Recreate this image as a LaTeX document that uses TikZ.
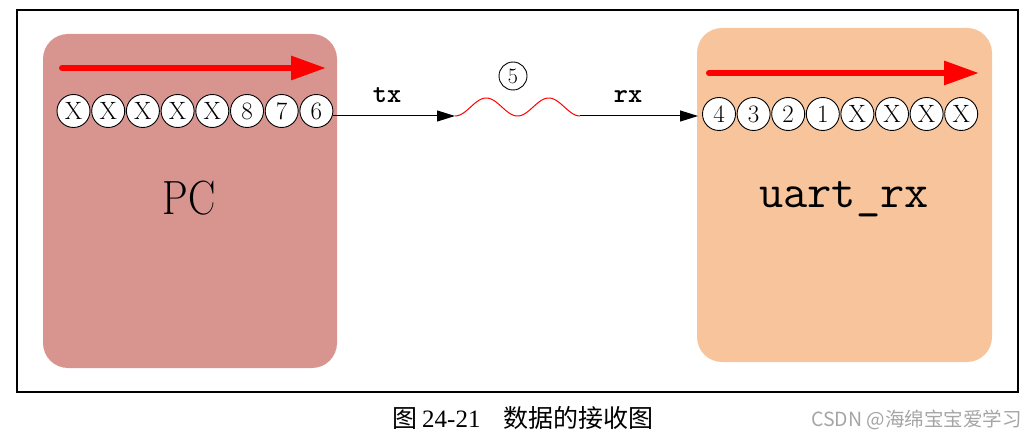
\documentclass[tikz,border=0pt]{standalone}
\usepackage{fontspec}
\newfontfamily\cjk{Noto Sans CJK SC}
\newfontfamily\capdigits{Liberation Serif}
\usetikzlibrary{arrows.meta,calc}
\definecolor{pcfill}{RGB}{216,149,144}
\definecolor{rxfill}{RGB}{248,196,155}
\definecolor{wmgray}{RGB}{165,165,165}
\tikzset{
  blockbox/.style={rounded corners=25pt, draw=none},
  bit/.style={circle, draw=black, line width=0.9pt, fill=white, minimum size=33pt, inner sep=0pt,
    font=\fontsize{25}{25}\selectfont},
  flow/.style={red, line width=6pt, line cap=round, -{Triangle[length=35pt,width=23pt]}},
  link/.style={black, line width=1pt, -{Triangle[length=18pt,width=11pt]}},
  sig/.style={font=\ttfamily\bfseries\fontsize{27}{27}\selectfont, anchor=base},
}
\begin{document}
\begin{tikzpicture}[x=1pt,y=-1pt]
\useasboundingbox (0,0) rectangle (1036,438);
% frame
\draw[line width=2pt] (17,10) rectangle (1018,392);
% blocks
\fill[pcfill, blockbox] (43,34) rectangle (337,368);
\fill[rxfill, blockbox] (697,28) rectangle (992,362);
\node[font=\fontsize{48}{48}\selectfont, anchor=base] (pc) at (189,215) {\scalebox{0.85}[1]{PC}};
\node[font=\ttfamily\fontsize{47}{47}\selectfont, anchor=base] (rx) at (844,208) {uart\_rx};
% red flow arrows
\coordinate (fl1) at (62,68);
\coordinate (fl2) at (326,68);
\coordinate (fr1) at (709,73);
\coordinate (fr2) at (979,73);
\draw[flow] (fl1) -- (fl2);
\draw[flow] (fr1) -- (fr2);
% left bits
\foreach \t [count=\i] in {X,X,X,X,X,8,7,6}{
  \node[bit] (l\i) at ({73.5+34.7*(\i-1)},111) {\t};
}
% right bits
\foreach \t [count=\i] in {4,3,2,1,X,X,X,X}{
  \node[bit] (r\i) at ({719+34.6*(\i-1)},114) {\t};
}
% channel
\coordinate (w1) at (455,116);
\coordinate (w2) at (580,116);
\draw[link] (l8.east |- w1) -- (w1);
\draw[red, line width=1pt] plot[domain=0:125, samples=100, smooth, variable=\t] ({455+\t},{107+9*cos(5.76*\t)});
\draw[link] (w2) -- ($(r1.west |- w2)+(-4,0)$);
\node[sig] (tx) at (387,103) {tx};
\node[sig] (rxl) at (628,103) {rx};
\node[circle, draw=black, line width=0.9pt, minimum size=28pt, inner sep=0pt,
  font=\fontsize{22}{22}\selectfont] (five) at (513,76) {5};
% caption
\node[font=\fontsize{25}{25}\selectfont, anchor=base west, inner sep=0pt] (cap) at (392,427)
  {{\cjk 图}\hspace{0.2em}{\capdigits 24-21}\hspace{0.9em}{\cjk 数据的接收图}};
\node[font=\fontsize{19.5}{19.5}\selectfont\cjk, text=wmgray, anchor=base east, inner sep=0pt] (wm) at (1022,426) {CSDN @海绵宝宝爱学习};
\end{tikzpicture}
\end{document}
